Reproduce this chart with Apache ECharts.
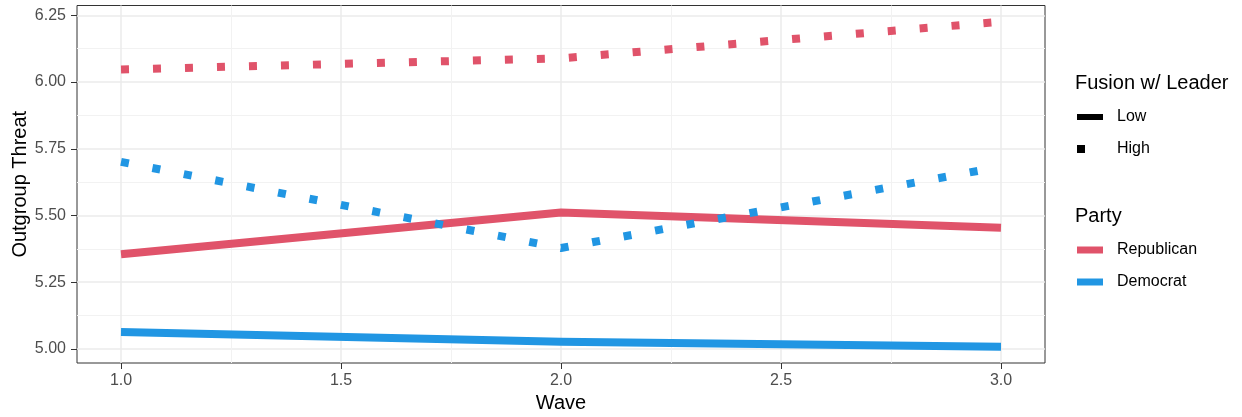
<!DOCTYPE html>
<html><head><meta charset="utf-8">
<script src="https://cdn.jsdelivr.net/npm/echarts@6/dist/echarts.min.js"></script>
<style>html,body{margin:0;padding:0;background:#fff}#c{width:1242px;height:417px}</style>
</head><body><div id="c"></div>
<script>
// ---- data ----
const waves = [1, 2, 3];
const repLow = [5.355, 5.511, 5.454];
const demLow = [5.063, 5.027, 5.008];
const repHigh = [6.047, 6.089, 6.226];
const demHigh = [5.701, 5.378, 5.683];
const xTicks = [1.0, 1.5, 2.0, 2.5, 3.0];
const xMinor = [1.25, 1.75, 2.25, 2.75];
const yTicks = [5.00, 5.25, 5.50, 5.75, 6.00, 6.25];
const yMinor = [5.125, 5.375, 5.625, 5.875, 6.125];
const fusionLevels = ['Low', 'High'];
const parties = ['Republican', 'Democrat'];

const RED = '#E0536A', BLUE = '#2196E3';
const FONT = '"Liberation Sans", Arial, sans-serif';

const allY = [].concat(repLow, demLow, repHigh, demHigh);
const yLo = Math.min(...allY), yHi = Math.max(...allY), yPad = (yHi - yLo) * 0.05;
const xLo = Math.min(...waves), xHi = Math.max(...waves), xPad = (xHi - xLo) * 0.05;

function mk(name, vals, color, dotted) {
  return {
    type: 'line', name, silent: true, symbol: 'none', showSymbol: false,
    data: waves.map((w, i) => [w, vals[i]]),
    lineStyle: { color, width: 8, type: dotted ? [8, 24] : 'solid', cap: 'butt', join: 'round' },
    itemStyle: { color }, z: dotted ? 4 : 3, xAxisIndex: 0, yAxisIndex: 0
  };
}
function dummy(name) { return { type: 'scatter', name, data: [], itemStyle: { opacity: 1 }, xAxisIndex: 0, yAxisIndex: 0 }; }

function lg(name, icon, w, h, color, centerY, padLeft) {
  return {
    show: true, left: 1077, top: centerY - 9, padding: 0, itemWidth: w, itemHeight: h,
    selectedMode: false, icon,
    data: [{ name, icon, itemStyle: { color, opacity: 1, borderWidth: 0 } }],
    textStyle: { fontSize: 16, color: '#000', fontFamily: FONT, lineHeight: 18, padding: [0, 0, 0, padLeft] }
  };
}

const axisCommonX = {
  type: 'value', min: +(xLo - xPad).toFixed(4), max: +(xHi + xPad).toFixed(4)
};
const axisCommonY = {
  type: 'value', min: yLo - yPad, max: yHi + yPad
};

const option = {
  animation: false,
  backgroundColor: '#fff',
  textStyle: { fontFamily: FONT },
  grid: { left: 77, right: 197, top: 5.5, bottom: 54, show: true, borderColor: '#333333', borderWidth: 1, backgroundColor: 'transparent', containLabel: false, outerBoundsMode: 'none' },
  title: [
    { text: 'Fusion w/ Leader', left: 1075, top: 73, padding: 0, textStyle: { fontSize: 20, fontWeight: 'normal', color: '#000', fontFamily: FONT } },
    { text: 'Party', left: 1075, top: 206, padding: 0, textStyle: { fontSize: 20, fontWeight: 'normal', color: '#000', fontFamily: FONT } }
  ],
  legend: [
    lg(fusionLevels[0], 'rect', 26, 6, '#000', 117, 9),
    lg(fusionLevels[1], 'rect', 8, 8, '#000', 149, 27),
    lg(parties[0], 'rect', 26, 7, RED, 250, 9),
    lg(parties[1], 'rect', 26, 7, BLUE, 282, 9)
  ],
  xAxis: [
    Object.assign({}, axisCommonX, {
      position: 'bottom',
      name: 'Wave', nameLocation: 'middle', nameGap: 28,
      nameTextStyle: { fontSize: 20, color: '#000', fontFamily: FONT },
      axisLine: { show: false },
      axisTick: { show: true, length: 6, customValues: xTicks, lineStyle: { color: '#333333', width: 1 } },
      axisLabel: { show: true, customValues: xTicks, margin: 10, fontSize: 16, color: '#4D4D4D', fontFamily: FONT, formatter: v => Number(v).toFixed(1) },
      splitLine: { show: true, lineStyle: { color: '#EBEBEB', width: 1.5 } }
    }),
    Object.assign({}, axisCommonX, {
      position: 'bottom', show: true,
      axisLine: { show: false }, axisLabel: { show: false },
      axisTick: { show: false, customValues: xMinor },
      splitLine: { show: true, lineStyle: { color: '#F2F2F2', width: 1 } }
    })
  ],
  yAxis: [
    Object.assign({}, axisCommonY, {
      position: 'left',
      name: 'Outgroup Threat', nameLocation: 'middle', nameGap: 47, nameRotate: 90, nameMoveOverlap: false,
      nameTextStyle: { fontSize: 20, color: '#000', fontFamily: FONT },
      axisLine: { show: false },
      axisTick: { show: true, length: 6, customValues: yTicks, lineStyle: { color: '#333333', width: 1 } },
      axisLabel: { show: true, customValues: yTicks, margin: 11, fontSize: 16, color: '#4D4D4D', fontFamily: FONT, formatter: v => Number(v).toFixed(2) },
      splitLine: { show: true, lineStyle: { color: '#EBEBEB', width: 1.5 } }
    }),
    Object.assign({}, axisCommonY, {
      position: 'left', show: true,
      axisLine: { show: false }, axisLabel: { show: false },
      axisTick: { show: false, customValues: yMinor },
      splitLine: { show: true, lineStyle: { color: '#F2F2F2', width: 1 } }
    })
  ],
  series: [
    mk('Republican Low', repLow, RED, false),
    mk('Democrat Low', demLow, BLUE, false),
    mk('Republican High', repHigh, RED, true),
    mk('Democrat High', demHigh, BLUE, true),
    dummy(fusionLevels[0]), dummy(fusionLevels[1]), dummy(parties[0]), dummy(parties[1])
  ]
};
const chart = echarts.init(document.getElementById('c'), null, { renderer: 'canvas' });
chart.setOption(option);
</script>
</body></html>
